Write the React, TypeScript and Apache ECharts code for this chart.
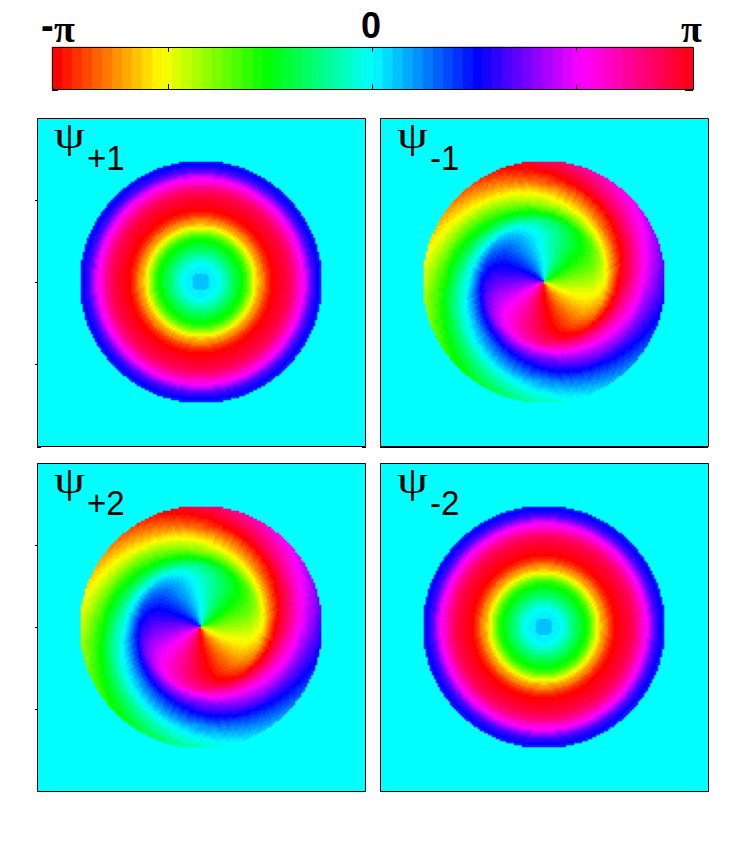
import React, { useEffect, useRef } from "react";
import * as echarts from "echarts";

// Colormap order (phase -pi .. pi), 64 levels
const colormapStops = ["#ff0000", "#ffff00", "#00ff00", "#00ffff", "#0000ff", "#ff00ff", "#ff0018"];
const barLevels = Array.from({ length: 64 }, (_, i) => i);
const barTicks = [-2, 0, 2];

// Phase level per ring, centre to rim, read along the radius of the ring panels (1 ring = 2.2 px)
const ringLevels = [
  34, 34, 34, 34, 32, 32, 32, 31, 31, 30, 29, 28, 27, 26, 25, 24, 23, 22, 21, 20,
  19, 17, 15, 13, 11, 9, 7, 6, 5, 3, 2, 1, 0, 0, -1, -1, -2, -2, -3, -3,
  -4, -5, -6, -7, -9, -10, -11, -13, -15, -17, -19, -20, -21, -22, -23, -24,
];
// Phase shift per ring, read along the radii of the spiral panels
const spiralTwist = [
  0, -0.1, -0.2, -0.3, -0.4, -0.5, -0.6, -0.7, -0.8, -0.9, -1, -1.1, -1.2, -1.3, -1.4, -1.5, -1.6, -1.7, -1.8, -1.9,
  -2, -2.2, -2.5, -2.9, -3.4, -4, -4.7, -5.5, -7, -8.8, -10.5, -12, -13.5, -15, -16.3, -17.7, -19, -20, -21, -22,
  -23, -24, -25, -26, -27.2, -28.2, -29.2, -30, -30.8, -31.6, -32.4, -33, -33.8, -34.5, -35.2, -36,
];
const ringWidthPx = 2.2;
const spiralEastLevel = 16;
const gridCells = 164;
const cellPx = 2;
const discRadiusPx = 121;
const titles = [["+1", "ring"], ["-1", "spiral"], ["+2", "spiral"], ["-2", "ring"]];
const panelTicks = [25, 50, 75];

const panels = [
  { left: 37, top: 118, tick: true },
  { left: 380, top: 118, tick: false },
  { left: 37, top: 463, tick: true },
  { left: 380, top: 463, tick: false },
];
const PW = 328;
const PH = 328;

function cells(kind: string) {
  const out: number[][] = [];
  const c = gridCells / 2;
  for (let row = 0; row < gridCells; row++) {
    for (let col = 0; col < gridCells; col++) {
      const dx = col + 0.5 - c;
      const dy = c - row - 0.5;
      const r = Math.hypot(dx, dy) * cellPx;
      if (r > discRadiusPx) continue;
      const ring = Math.min(ringLevels.length - 1, Math.floor(r / ringWidthPx));
      let level: number;
      if (kind === "ring") level = ringLevels[ring];
      else level = spiralEastLevel + (Math.atan2(dy, dx) / (2 * Math.PI)) * 64 + spiralTwist[ring];
      out.push([col, row, ((Math.round(level) % 64) + 64) % 64]);
    }
  }
  return out;
}

export default function App() {
  const ref = useRef<HTMLDivElement>(null);
  useEffect(() => {
    const chart = echarts.init(ref.current!, undefined, { renderer: "svg" });
    const cats = Array.from({ length: gridCells }, (_, i) => String(i));
    const grid: any[] = [{ left: 52, top: 47, width: 641, height: 42, show: false }];
    const barAxis = (position: string) => ({
      type: "value", gridIndex: 0, min: -Math.PI, max: Math.PI, position, z: 20,
      axisLine: { show: false }, splitLine: { show: false }, axisLabel: { show: false },
      axisTick: { show: true, inside: true, length: 5, customValues: barTicks, lineStyle: { color: "#000" } },
    });
    const xAxis: any[] = [
      { type: "category", gridIndex: 0, data: barLevels.map(String), show: false },
      barAxis("bottom"),
      barAxis("top"),
    ];
    const yAxis: any[] = [{ type: "category", gridIndex: 0, data: ["0"], show: false }];
    const series: any[] = [
      {
        type: "heatmap", xAxisIndex: 0, yAxisIndex: 0, silent: true, progressive: 0,
        emphasis: { disabled: true }, data: barLevels.map((v, i) => [i, 0, v]),
      },
    ];
    panels.forEach((p, i) => {
      const g = i + 1;
      grid.push({ left: p.left, top: p.top, width: PW, height: PH, show: true, borderWidth: 0, backgroundColor: "#00ffff" });
      xAxis.push({ type: "category", gridIndex: g, data: cats, show: false });
      yAxis.push({ type: "category", gridIndex: g, data: cats, show: false, inverse: true });
      const yIdx = yAxis.length - 1;
      const xIdx = xAxis.length - 1;
      if (p.tick) {
        yAxis.push({
          type: "value", gridIndex: g, min: 0, max: 100, position: "left",
          axisLine: { show: false }, splitLine: { show: false }, axisLabel: { show: false },
          axisTick: { show: true, length: 2, customValues: panelTicks, lineStyle: { color: "#000" } },
        });
      }
      series.push({
        type: "heatmap", xAxisIndex: xIdx, yAxisIndex: yIdx, silent: true, progressive: 0,
        emphasis: { disabled: true }, data: cells(titles[i][1]),
      });
    });

    const ink = "#000";
    const frame = (x: number, y: number, w: number, h: number) => ({
      type: "rect", z: 50, shape: { x: x + 0.5, y: y + 0.5, width: w, height: h },
      style: { fill: "none", stroke: ink, lineWidth: 1 },
    });
    const stub = (x1: number, x2: number, y: number) => ({
      type: "line", z: 50, shape: { x1, y1: y + 0.5, x2, y2: y + 0.5 }, style: { stroke: ink, lineWidth: 1 },
    });
    const graphic: any[] = [
      frame(52, 47, 641, 42),
      stub(52, 58, 90),
      stub(685, 693, 90),
      stub(37, 41, 447),
      stub(362, 366, 447),
      stub(380, 708, 447),
      { type: "text", x: 41, y: 7, z: 50, style: { text: "-", font: "bold 38px 'Liberation Sans'", fill: ink } },
      { type: "text", x: 54, y: 10, z: 50, style: { text: "π", font: "bold 38px 'Liberation Serif'", fill: ink } },
      { type: "text", x: 361, y: 7, z: 50, style: { text: "0", font: "bold 36px 'Liberation Sans'", fill: ink } },
      { type: "text", x: 681, y: 10, z: 50, style: { text: "π", font: "bold 38px 'Liberation Serif'", fill: ink } },
    ];
    panels.forEach((p, i) => {
      graphic.push(frame(p.left, p.top, PW, PH));
      graphic.push({
        type: "text", x: p.left + 17, y: p.top - 2, z: 50, scaleX: 1.3,
        style: { text: "ψ", font: "38px 'Liberation Serif'", fill: ink },
      });
      graphic.push({
        type: "text", x: p.left + 50, y: p.top + 22, z: 50, scaleX: 0.92,
        style: { text: titles[i][0], font: "36px 'Liberation Sans'", fill: ink },
      });
    });

    chart.setOption({
      animation: false,
      backgroundColor: "#fff",
      tooltip: { show: false },
      visualMap: { show: false, type: "continuous", min: 0, max: 63, dimension: 2, inRange: { color: colormapStops } },
      grid, xAxis, yAxis, series, graphic,
    });
    return () => chart.dispose();
  }, []);
  return <div ref={ref} style={{ position: "absolute", left: 0, top: 0, width: 745, height: 852 }} />;
}
